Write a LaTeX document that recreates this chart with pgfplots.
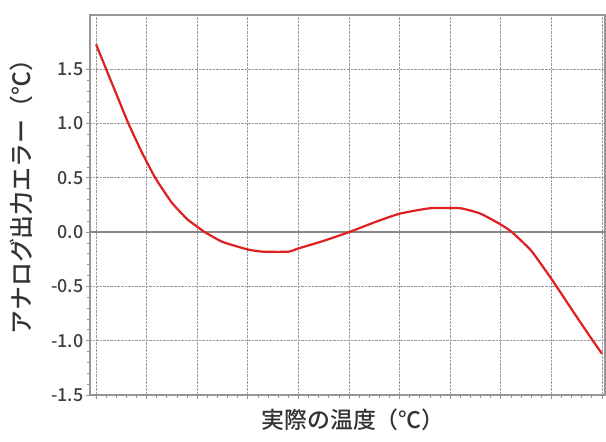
\documentclass[border=0pt]{standalone}
\usepackage{fontspec}
\setmainfont{Noto Sans CJK JP}
\newfontfamily\labelfont{Noto Sans CJK JP}[UprightFont={* Medium}]
\usepackage{pgfplots}
\pgfplotsset{compat=1.18}
\definecolor{curvered}{RGB}{222,32,32}
\definecolor{framegray}{RGB}{150,150,150}
\begin{document}
\begin{tikzpicture}
\begin{axis}[
  name=ax,
  scale only axis,
  width=515bp, height=380bp,
  xmin=-0.12, xmax=10.06,
  ymin=-1.5, ymax=2.0,
  xtick={0,1,...,10},
  xticklabels={},
  minor x tick num=4,
  ytick={-1.5,-1,-0.5,0,0.5,1,1.5},
  minor y tick num=4,
  yticklabel style={/pgf/number format/fixed,/pgf/number format/fixed zerofill,/pgf/number format/precision=1,font=\labelfont\fontsize{18}{18}\selectfont,text=black!75,xshift=1bp},
  /pgf/number format/assume math mode=true,
  tick align=outside,
  xtick pos=bottom, ytick pos=left,
  major tick length=4bp, minor tick length=3bp,
  tick style={framegray, line width=0.8bp},
  grid=major,
  major grid style={densely dotted, gray!80, line width=0.9bp},
  axis line style={framegray, line width=1.6bp},
  clip=false,
]
\addplot[framegray!90!black, line width=1.4bp, forget plot] coordinates {(-0.12,0) (10.06,0)};
\addplot[curvered, line width=2.2bp, smooth, tension=0.3] coordinates {
(0,1.73) (0.2,1.5) (0.42,1.25) (0.64,1.0) (0.9,0.74) (1.17,0.5) (1.5,0.27) (1.8,0.12) (2.0,0.05) (2.15,0.0) (2.5,-0.09) (3.0,-0.16) (3.3,-0.18) (3.8,-0.18) (4.0,-0.15) (4.5,-0.08) (5.0,0.0) (5.5,0.09) (6.0,0.17) (6.6,0.22) (7.2,0.22) (7.6,0.17) (8.0,0.07) (8.22,0.0) (8.6,-0.17) (9.0,-0.43) (9.5,-0.78) (9.82,-1.0) (10.0,-1.12)
};
\end{axis}
\node[font=\labelfont\fontsize{23}{23}\selectfont, text=black!80] at ([shift={(263bp,-25bp)}]ax.south west) {実際の温度（℃）};
\node[font=\labelfont\fontsize{24}{24}\selectfont, text=black!80, rotate=90] at ([shift={(-69bp,204bp)}]ax.south west) {アナログ出力エラー（℃）};
\path[use as bounding box] ([shift={(-90bp,-47bp)}]ax.south west) rectangle ([shift={(1bp,15bp)}]ax.north east);
\end{tikzpicture}
\end{document}
